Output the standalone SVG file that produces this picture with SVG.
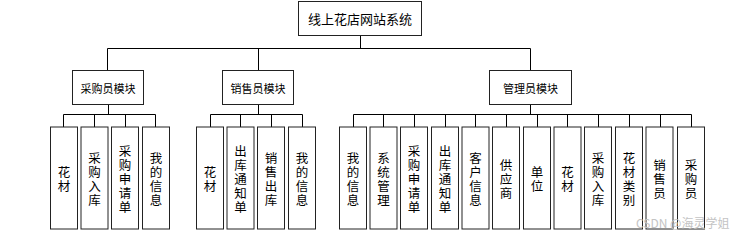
<svg xmlns="http://www.w3.org/2000/svg" width="755" height="236" viewBox="0 0 755 236">
<style>
rect{fill:#fff;stroke:#222;stroke-width:1}
text{font-family:"Noto Sans CJK SC","Liberation Sans",sans-serif;fill:#000;text-anchor:middle;dominant-baseline:central}
.root{font-size:13px}
.mod{font-size:11px}
.leaf{font-size:12.5px}
.conn path{fill:none;stroke:#000;stroke-width:1}
.wm{font-size:12px;fill:#c4c4c4;text-anchor:start}
</style>
<rect width="755" height="236" style="fill:#fff;stroke:none"/>
<g class="conn">
<path d="M360.5 35V48.5M107.5 48.5H530.5M107.5 48.5V70.5M258.5 48.5V70.5M530.5 48.5V70.5"/>
<path d="M108.5 104.5V114.5M63.5 114.5H155.5M63.5 114.5V127M94.5 114.5V127M125.5 114.5V127M155.5 114.5V127"/>
<path d="M258.5 104.5V114.5M210.5 114.5H302.5M210.5 114.5V127M240.5 114.5V127M271.5 114.5V127M302.5 114.5V127"/>
<path d="M530.5 104.5V114.5M353.5 114.5H691.5M353.5 114.5V127M383.5 114.5V127M414.5 114.5V127M445.5 114.5V127M475.5 114.5V127M506.5 114.5V127M537.5 114.5V127M567.5 114.5V127M598.5 114.5V127M629.5 114.5V127M660.5 114.5V127M691.5 114.5V127"/>
</g>
<g id="root"><rect x="298.5" y="1.5" width="123" height="34"/><text class="root" x="360" y="18.5">线上花店网站系统</text></g>
<g id="m1"><rect x="72.5" y="70.5" width="71" height="34"/><text class="mod" x="108" y="87.5">采购员模块</text></g>
<g id="m2"><rect x="222.5" y="70.5" width="71" height="34"/><text class="mod" x="258" y="87.5">销售员模块</text></g>
<g id="m3"><rect x="489.5" y="70.5" width="82" height="34"/><text class="mod" x="530.5" y="87.5">管理员模块</text></g>

<g id="l1"><rect x="50.5" y="127" width="27" height="102"/><text class="leaf"><tspan x="64" y="171">花</tspan><tspan x="64" y="185">材</tspan></text></g>
<g id="l2"><rect x="81" y="127" width="27" height="102"/><text class="leaf"><tspan x="94.5" y="157">采</tspan><tspan x="94.5" y="171">购</tspan><tspan x="94.5" y="185">入</tspan><tspan x="94.5" y="199">库</tspan></text></g>
<g id="l3"><rect x="111.5" y="127" width="27" height="102"/><text class="leaf"><tspan x="125" y="150">采</tspan><tspan x="125" y="164">购</tspan><tspan x="125" y="178">申</tspan><tspan x="125" y="192">请</tspan><tspan x="125" y="206">单</tspan></text></g>
<g id="l4"><rect x="142.5" y="127" width="27" height="102"/><text class="leaf"><tspan x="156" y="157">我</tspan><tspan x="156" y="171">的</tspan><tspan x="156" y="185">信</tspan><tspan x="156" y="199">息</tspan></text></g>

<g id="l5"><rect x="196.5" y="127" width="27" height="102"/><text class="leaf"><tspan x="210" y="171">花</tspan><tspan x="210" y="185">材</tspan></text></g>
<g id="l6"><rect x="227" y="127" width="27" height="102"/><text class="leaf"><tspan x="240.5" y="150">出</tspan><tspan x="240.5" y="164">库</tspan><tspan x="240.5" y="178">通</tspan><tspan x="240.5" y="192">知</tspan><tspan x="240.5" y="206">单</tspan></text></g>
<g id="l7"><rect x="257.5" y="127" width="27" height="102"/><text class="leaf"><tspan x="271" y="157">销</tspan><tspan x="271" y="171">售</tspan><tspan x="271" y="185">出</tspan><tspan x="271" y="199">库</tspan></text></g>
<g id="l8"><rect x="288.5" y="127" width="27" height="102"/><text class="leaf"><tspan x="302" y="157">我</tspan><tspan x="302" y="171">的</tspan><tspan x="302" y="185">信</tspan><tspan x="302" y="199">息</tspan></text></g>

<g id="l9"><rect x="339.5" y="127" width="27" height="102"/><text class="leaf"><tspan x="353" y="157">我</tspan><tspan x="353" y="171">的</tspan><tspan x="353" y="185">信</tspan><tspan x="353" y="199">息</tspan></text></g>
<g id="l10"><rect x="370" y="127" width="27" height="102"/><text class="leaf"><tspan x="383.5" y="157">系</tspan><tspan x="383.5" y="171">统</tspan><tspan x="383.5" y="185">管</tspan><tspan x="383.5" y="199">理</tspan></text></g>
<g id="l11"><rect x="400.5" y="127" width="27" height="102"/><text class="leaf"><tspan x="414" y="150">采</tspan><tspan x="414" y="164">购</tspan><tspan x="414" y="178">申</tspan><tspan x="414" y="192">请</tspan><tspan x="414" y="206">单</tspan></text></g>
<g id="l12"><rect x="431.5" y="127" width="27" height="102"/><text class="leaf"><tspan x="445" y="150">出</tspan><tspan x="445" y="164">库</tspan><tspan x="445" y="178">通</tspan><tspan x="445" y="192">知</tspan><tspan x="445" y="206">单</tspan></text></g>
<g id="l13"><rect x="462" y="127" width="27" height="102"/><text class="leaf"><tspan x="475.5" y="157">客</tspan><tspan x="475.5" y="171">户</tspan><tspan x="475.5" y="185">信</tspan><tspan x="475.5" y="199">息</tspan></text></g>
<g id="l14"><rect x="492.5" y="127" width="27" height="102"/><text class="leaf"><tspan x="506" y="164">供</tspan><tspan x="506" y="178">应</tspan><tspan x="506" y="192">商</tspan></text></g>
<g id="l15"><rect x="523.5" y="127" width="27" height="102"/><text class="leaf"><tspan x="537" y="171">单</tspan><tspan x="537" y="185">位</tspan></text></g>
<g id="l16"><rect x="554" y="127" width="27" height="102"/><text class="leaf"><tspan x="567.5" y="171">花</tspan><tspan x="567.5" y="185">材</tspan></text></g>
<g id="l17"><rect x="584.5" y="127" width="27" height="102"/><text class="leaf"><tspan x="598" y="157">采</tspan><tspan x="598" y="171">购</tspan><tspan x="598" y="185">入</tspan><tspan x="598" y="199">库</tspan></text></g>
<g id="l18"><rect x="615.5" y="127" width="27" height="102"/><text class="leaf"><tspan x="629" y="157">花</tspan><tspan x="629" y="171">材</tspan><tspan x="629" y="185">类</tspan><tspan x="629" y="199">别</tspan></text></g>
<g id="l19"><rect x="646" y="127" width="27" height="102"/><text class="leaf"><tspan x="659.5" y="164">销</tspan><tspan x="659.5" y="178">售</tspan><tspan x="659.5" y="192">员</tspan></text></g>
<g id="l20"><rect x="677.5" y="127" width="27" height="102"/><text class="leaf"><tspan x="691" y="164">采</tspan><tspan x="691" y="178">购</tspan><tspan x="691" y="192">员</tspan></text></g>

<text class="wm" x="636" y="222">CSDN @海灵学姐</text>
</svg>
